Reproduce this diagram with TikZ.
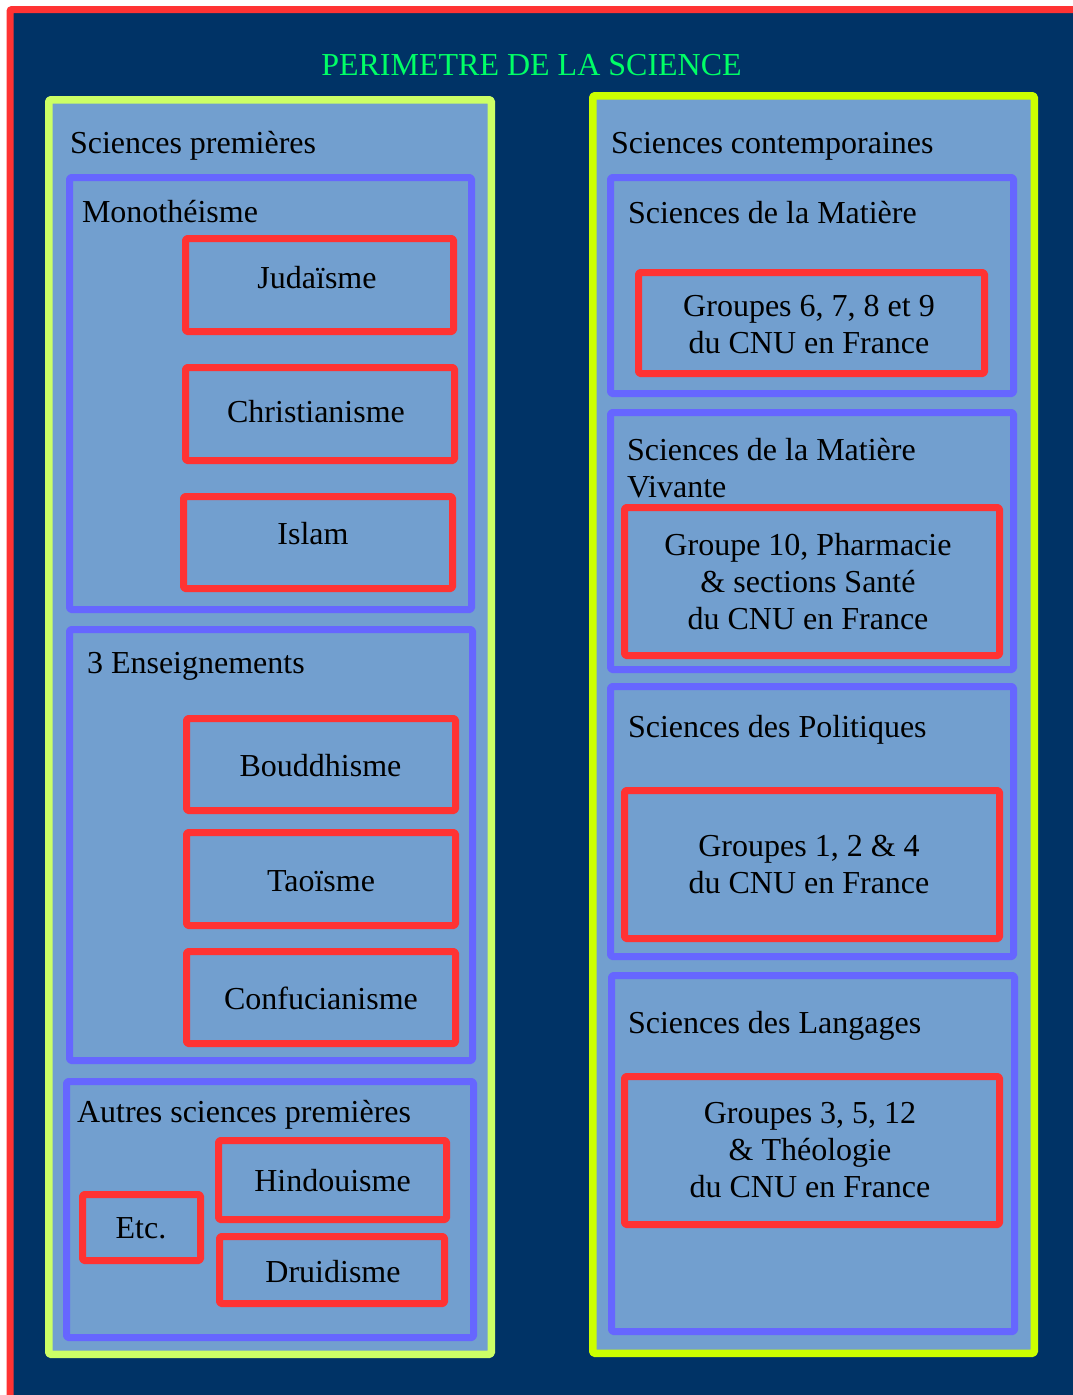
\documentclass[tikz,border=0pt]{standalone}
\usepackage{fontspec}
\setmainfont{Liberation Serif}
\definecolor{navy}{HTML}{003366}
\definecolor{boxfill}{HTML}{729FCF}
\definecolor{greenA}{HTML}{CCFF66}
\definecolor{greenB}{HTML}{CCFF00}
\definecolor{bluebd}{HTML}{6666FF}
\definecolor{redbd}{HTML}{FF3333}
\definecolor{titlegreen}{HTML}{00FF66}
\tikzset{
  frame/.style={draw, fill=boxfill, rectangle, inner sep=0pt, outer sep=0pt, line join=round, rounded corners=1.5pt},
  greenbox/.style={frame, line width=7.5pt},
  bluebox/.style={frame, draw=bluebd, line width=7pt},
  redbox/.style={frame, draw=redbd, line width=7pt},
  lbl/.style={font=\fontsize{32}{36.8}\selectfont, inner sep=0pt, outer sep=0pt, text=black},
  headlbl/.style={lbl, anchor=base west},
  inlbl/.style={lbl, anchor=base, align=center},
}
\begin{document}
\begin{tikzpicture}[x=1pt,y=-1pt]
\useasboundingbox (0,0) rectangle (1073,1395);
\fill[white] (0,0) rectangle (1073,1395);
\path[draw=redbd, fill=navy, line width=7pt, rounded corners=2pt] (10,9.5) rectangle (1100,1420);
\node[lbl, anchor=base, text=titlegreen] (title) at (531.5,75) {PERIMETRE DE LA SCIENCE};

% left column
\node[greenbox, draw=greenA, minimum width=442.5pt, minimum height=1254.5pt] (prem) at (270,727) {};
\node[headlbl] (premlbl) at (70,153) {Sciences premières};

\node[bluebox, minimum width=402pt, minimum height=432pt] (mono) at (270.5,393.5) {};
\node[headlbl] (monolbl) at (82,222) {Monothéisme};
\node[redbox, minimum width=268pt, minimum height=93pt] (jud) at (319.5,285) {};
\node[inlbl] at (317,288) {Judaïsme};
\node[redbox, minimum width=269pt, minimum height=93pt] (chr) at (320,414) {};
\node[inlbl] at (316,422) {Christianisme};
\node[redbox, minimum width=269pt, minimum height=92pt] (isl) at (318,542.5) {};
\node[inlbl] at (313,544) {Islam};

\node[bluebox, minimum width=403pt, minimum height=431pt] (ens) at (271,845) {};
\node[headlbl] (enslbl) at (87,673) {3 Enseignements};
\node[redbox, minimum width=269pt, minimum height=92pt] (boud) at (321,764.5) {};
\node[inlbl] at (320.5,776) {Bouddhisme};
\node[redbox, minimum width=269pt, minimum height=93pt] (tao) at (321,879) {};
\node[inlbl] at (321,891) {Taoïsme};
\node[redbox, minimum width=269pt, minimum height=92pt] (conf) at (321,997.5) {};
\node[inlbl] at (321,1009) {Confucianisme};

\node[bluebox, minimum width=407pt, minimum height=256pt] (autres) at (270,1209.5) {};
\node[headlbl] (autreslbl) at (77,1122) {Autres sciences premières};
\node[redbox, minimum width=228pt, minimum height=79pt] (hind) at (332.5,1180) {};
\node[inlbl] at (332.5,1191) {Hindouisme};
\node[redbox, minimum width=225pt, minimum height=67pt] (druid) at (332,1270) {};
\node[inlbl] at (333,1282) {Druidisme};
\node[redbox, minimum width=118pt, minimum height=66pt] (etc) at (141.5,1227.5) {};
\node[inlbl] at (141,1238) {Etc.};

% right column
\node[greenbox, draw=greenB, minimum width=441.5pt, minimum height=1257.5pt] (cont) at (813.5,724.5) {};
\node[headlbl] (contlbl) at (611,153) {Sciences contemporaines};

\node[bluebox, minimum width=403pt, minimum height=216pt] (mat) at (812,285.5) {};
\node[headlbl] (matlbl) at (628,223) {Sciences de la Matière};
\node[redbox, minimum width=346pt, minimum height=101pt] (g6) at (811.5,323) {};
\node[inlbl] at (809,353) {Groupes 6, 7, 8 et 9\\du CNU en France};

\node[bluebox, minimum width=403pt, minimum height=257pt] (viv) at (812,541) {};
\node[headlbl, align=left] (vivlbl) at (627,497) {Sciences de la Matière\\Vivante};
\node[redbox, minimum width=375pt, minimum height=148pt] (g10) at (812,581.5) {};
\node[inlbl] at (808,629) {Groupe 10, Pharmacie\\\& sections Santé\\du CNU en France};

\node[bluebox, minimum width=403pt, minimum height=270pt] (pol) at (812,821.5) {};
\node[headlbl] (pollbl) at (628,737) {Sciences des Politiques};
\node[redbox, minimum width=375pt, minimum height=148pt] (g124) at (812,864.5) {};
\node[inlbl] at (809,893) {Groupes 1, 2 \& 4\\du CNU en France};

\node[bluebox, minimum width=403pt, minimum height=356pt] (lang) at (813,1153.5) {};
\node[headlbl] (langlbl) at (628,1033) {Sciences des Langages};
\node[redbox, minimum width=375pt, minimum height=148pt] (g3512) at (812,1150.5) {};
\node[inlbl] at (810,1197) {Groupes 3, 5, 12\\\& Théologie\\du CNU en France};
\end{tikzpicture}
\end{document}
